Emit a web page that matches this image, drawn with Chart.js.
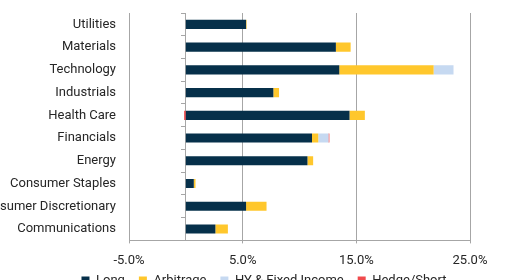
<!DOCTYPE html>
<html>
<head>
<meta charset="utf-8">
<script src="https://cdn.jsdelivr.net/npm/chart.js@4"></script>
<style>
  html, body { margin: 0; padding: 0; background: #fff; overflow: hidden; }
  .chart-box { position: relative; width: 508px; height: 297px; }
</style>
</head>
<body>
<div class="chart-box"><canvas id="sectorChart"></canvas></div>
<script>
// Sector exposure (% of portfolio)
const sectors = ['Utilities', 'Materials', 'Technology', 'Industrials', 'Health Care',
                 'Financials', 'Energy', 'Consumer Staples', 'Consumer Discretionary', 'Communications'];
const longVals      = [5.3, 13.2, 13.5, 7.7, 14.4, 11.1, 10.7, 0.7, 5.3, 2.6];
const arbitrageVals = [0.05, 1.3, 8.3, 0.5, 1.35, 0.55, 0.5, 0.15, 1.8, 1.1];
const hyFixedVals   = [0, 0, 1.75, 0, 0, 0.9, 0, 0, 0, 0];
const hedgeVals     = [0, 0, 0, 0, -0.15, 0.08, 0, 0, 0, 0];
const xTicks = [-5, 5, 15, 25];

const gridGrey = '#a6a6a6';
const textColor = '#262626';

Chart.defaults.font.family = 'Roboto, "Liberation Sans", sans-serif';
Chart.defaults.font.size = 13;
Chart.defaults.color = textColor;

function series(label, data, color) {
    return {
        label: label,
        data: data,
        backgroundColor: color,
        borderWidth: 0,
        categoryPercentage: 0.8,
        barPercentage: 0.5
    };
}

// axes were trimmed to tighten the layout; widen their label clip boxes again
// so the category names run to the canvas edge and the x labels are not cut
const widenLabelArea = {
    id: 'widenLabelArea',
    afterLayout(chart) {
        chart.scales.y.left = 0;
        chart.scales.x.bottom = chart.height;
    }
};

new Chart(document.getElementById('sectorChart'), {
    type: 'bar',
    data: {
        labels: sectors,
        datasets: [
            series('Long', longVals, '#06304a'),
            series('Arbitrage', arbitrageVals, '#ffc72c'),
            series('HY & Fixed Income', hyFixedVals, '#c6d9f1'),
            series('Hedge/Short', hedgeVals, '#f04a4c')
        ]
    },
    plugins: [widenLabelArea],
    options: {
        indexAxis: 'y',
        responsive: true,
        maintainAspectRatio: false,
        animation: false,
        // left padding only shifts the legend; the y axis width is trimmed to match
        layout: { padding: { top: 13, right: 38, left: 58, bottom: 0 } },
        plugins: {
            legend: {
                position: 'bottom',
                labels: {
                    boxWidth: 8,
                    boxHeight: 8,
                    padding: 14,
                    color: textColor
                }
            },
            tooltip: { enabled: false }
        },
        scales: {
            x: {
                stacked: true,
                min: -5,
                max: 25,
                afterBuildTicks: scale => {
                    scale.ticks = xTicks.map(v => ({ value: v }));
                },
                afterFit: scale => { scale.height -= 19; },
                grid: { color: gridGrey, tickLength: 3 },
                border: { color: gridGrey },
                ticks: {
                    padding: 10,
                    color: textColor,
                    callback: value => value.toFixed(1) + '%'
                }
            },
            y: {
                stacked: true,
                grid: { display: false, drawTicks: false },
                border: { display: false },
                ticks: { padding: 13, color: textColor, autoSkip: false },
                afterFit: scale => {
                    scale.width = 71;
                    scale.paddingTop = 0;
                    scale.paddingBottom = 0;
                }
            },
            // zero line with category tick marks
            y2: {
                type: 'category',
                axis: 'y',
                position: { x: 0 },
                grid: { drawOnChartArea: false, offset: true, tickLength: 4, color: gridGrey },
                border: { color: gridGrey },
                ticks: { display: false },
                afterFit: scale => {
                    scale.width = 0;
                    scale.paddingTop = 0;
                    scale.paddingBottom = 0;
                }
            }
        }
    }
});
</script>
</body>
</html>
